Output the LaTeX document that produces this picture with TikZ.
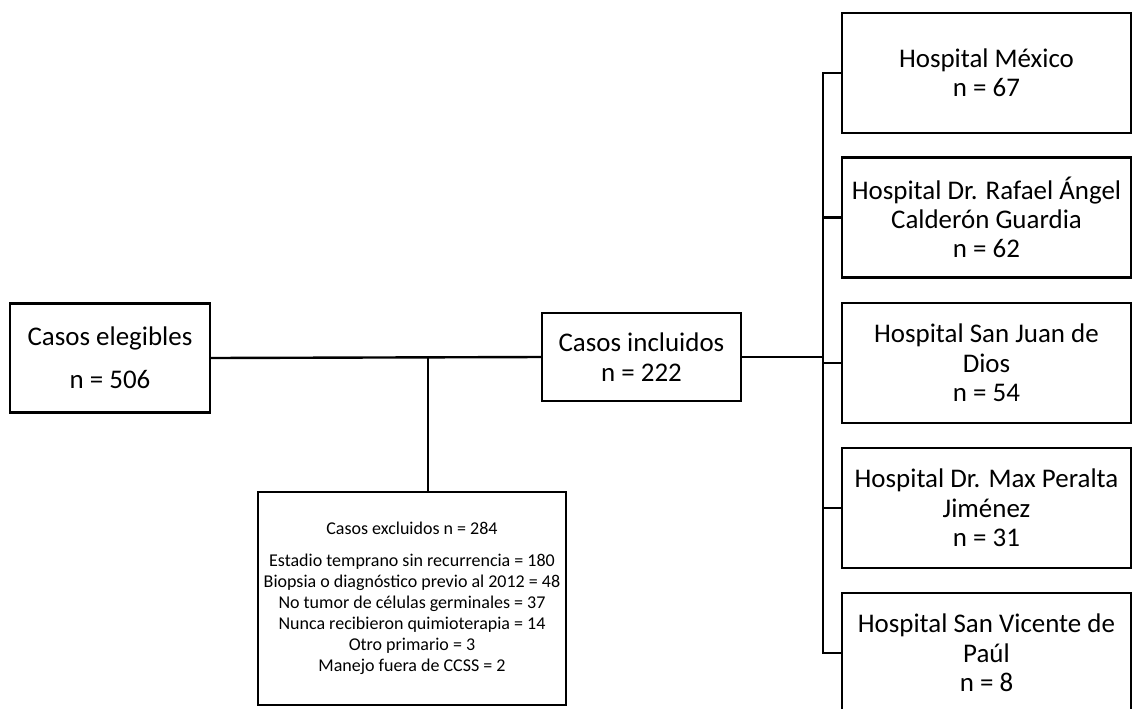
\documentclass[tikz,border=0pt]{standalone}
\usepackage{fontspec}
\setmainfont{Carlito}
\tikzset{
  box/.style={draw, line width=1.8pt, inner sep=0pt, align=center,
    font=\fontsize{20.2}{22}\selectfont},
  hospbox/.style={box, minimum width=216.75pt, minimum height=90pt},
  link/.style={line width=1.8pt}
}
\begin{document}
\begin{tikzpicture}[x=0.75pt, y=-0.75pt]
    \useasboundingbox (0,0) rectangle (1132,708);

    \node[box, minimum width=150pt, minimum height=81.75pt] (elegibles) at (110,358)
        {Casos elegibles\\[10pt]n = 506};
    \node[box, minimum width=149.25pt, minimum height=66pt] (incluidos) at (641.5,357)
        {Casos incluidos\\n = 222};
    \node[box, minimum width=231pt, minimum height=159.75pt,
        font=\fontsize{13.5}{15.8}\selectfont] (excluidos) at (412,598.5)
        {Casos excluidos n = 284\\[8pt]
         Estadio temprano sin recurrencia = 180\\
         Biopsia o diagnóstico previo al 2012 = 48\\
         No tumor de células germinales = 37\\
         Nunca recibieron quimioterapia = 14\\
         Otro primario = 3\\
         Manejo fuera de CCSS = 2};

    \node[hospbox] (hmexico) at (986.5,73) {Hospital México\\n = 67};
    \node[hospbox] (hcalderon) at (986.5,217.5) {Hospital Dr. Rafael Ángel\\Calderón Guardia\\n = 62};
    \node[hospbox] (hsanjuan) at (986.5,363) {Hospital San Juan de\\Dios\\n = 54};
    \node[hospbox] (hperalta) at (986.5,508) {Hospital Dr. Max Peralta\\Jiménez\\n = 31};
    \node[hospbox] (hvicente) at (986.5,653) {Hospital San Vicente de\\Paúl\\n = 8};

    \coordinate (split) at (428,358);
    \coordinate (trunk) at (823,357);

    \draw[link] (elegibles.east) -- (incluidos.west);
    \draw[link] (split) -- (split |- excluidos.north);
    \draw[link] (incluidos.east) -- (trunk);
    \draw[link] (hmexico.west) -- (trunk |- hmexico.west) -- (trunk |- hvicente.west) -- (hvicente.west);
    \foreach \h in {hcalderon, hsanjuan, hperalta}
        \draw[link] (trunk |- \h.west) -- (\h.west);
\end{tikzpicture}
\end{document}
